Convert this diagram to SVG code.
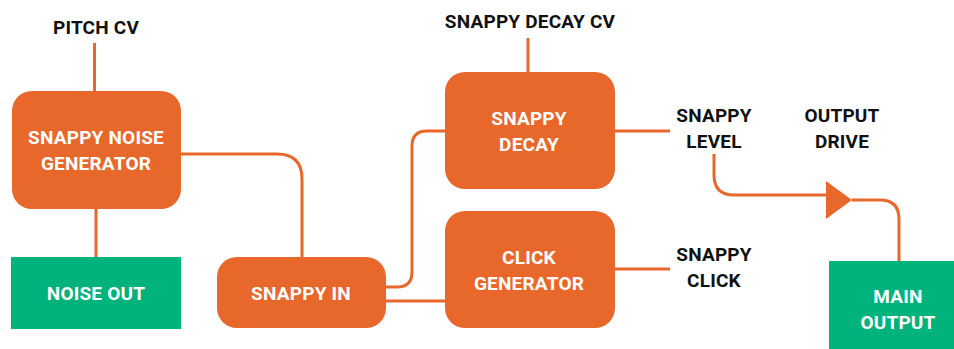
<svg xmlns="http://www.w3.org/2000/svg" width="954" height="349" viewBox="0 0 954 349">
<style>
.box{fill:#E8672A}
.out{fill:#00B27B}
.w{fill:#fff;font-family:Roboto,"Liberation Sans",sans-serif;font-weight:700;font-size:19px;letter-spacing:0.2px;text-anchor:middle}
.k{fill:#111;font-family:Roboto,"Liberation Sans",sans-serif;font-weight:700;font-size:19px;letter-spacing:0.2px;text-anchor:middle}
.c{fill:none;stroke:#E8672A;stroke-width:3}
</style>
<rect width="954" height="349" fill="#fff"/>
<g id="connectors">
<path class="c" d="M94.5,43V91"/>
<path class="c" d="M96,209V257"/>
<path class="c" d="M181,154H277Q302,154 302,179V257"/>
<path class="c" d="M386,287H397Q412,287 412,272V146Q412,131 427,131H445"/>
<path class="c" d="M386,301H445"/>
<path class="c" d="M528,38V72"/>
<path class="c" d="M615,131H670"/>
<path class="c" d="M615,269H670"/>
<path class="c" d="M714,154V175Q714,195 734,195H830"/>
<path class="c" d="M852,200H880Q899,200 899,219V261"/>
<polygon points="826,181 852,200 826,219" fill="#E8672A"/>
</g>
<g id="pitch-cv"><text class="k" x="96" y="34">PITCH CV</text></g>
<g id="snappy-noise-generator">
<rect class="box" x="12" y="91" width="169" height="118" rx="20"/>
<text class="w" x="96" y="144">SNAPPY NOISE</text>
<text class="w" x="96" y="170">GENERATOR</text>
</g>
<g id="noise-out">
<rect class="out" x="11" y="257" width="170" height="72"/>
<text class="w" x="96" y="300">NOISE OUT</text>
</g>
<g id="snappy-in">
<rect class="box" x="217" y="257" width="169" height="71" rx="20"/>
<text class="w" x="301" y="300">SNAPPY IN</text>
</g>
<g id="snappy-decay-cv"><text class="k" x="530" y="28">SNAPPY DECAY CV</text></g>
<g id="snappy-decay">
<rect class="box" x="445" y="72" width="170" height="117" rx="20"/>
<text class="w" x="529" y="125">SNAPPY</text>
<text class="w" x="529" y="151">DECAY</text>
</g>
<g id="click-generator">
<rect class="box" x="445" y="211" width="170" height="117" rx="20"/>
<text class="w" x="529" y="264">CLICK</text>
<text class="w" x="529" y="290">GENERATOR</text>
</g>
<g id="snappy-level">
<text class="k" x="714" y="122">SNAPPY</text>
<text class="k" x="714" y="148">LEVEL</text>
</g>
<g id="output-drive">
<text class="k" x="842" y="122">OUTPUT</text>
<text class="k" x="842" y="148">DRIVE</text>
</g>
<g id="snappy-click">
<text class="k" x="714" y="261">SNAPPY</text>
<text class="k" x="714" y="287">CLICK</text>
</g>
<g id="main-output">
<rect class="out" x="829" y="261" width="125" height="88"/>
<text class="w" x="898" y="303">MAIN</text>
<text class="w" x="898" y="329">OUTPUT</text>
</g>
</svg>
